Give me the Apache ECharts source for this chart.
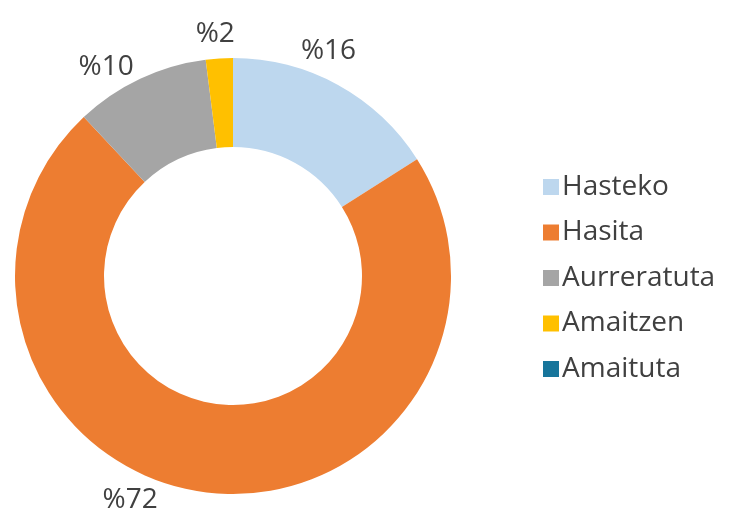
<!DOCTYPE html>
<html><head><meta charset="utf-8">
<script src="https://cdn.jsdelivr.net/npm/echarts@6/dist/echarts.min.js"></script>
<style>html,body{margin:0;padding:0;background:#fff}#c{width:736px;height:513px}</style>
</head><body><div id="c"></div>
<script>
const categories = ['Hasteko', 'Hasita', 'Aurreratuta', 'Amaitzen', 'Amaituta'];
const values = [16, 72, 10, 2, 0];
const colors = ['#BDD7EE', '#ED7D31', '#A5A5A5', '#FFC000', '#17759B'];

// small label nudges (style only) to mimic the original placement
const labelNudge = [[-41, -27], [-47, 0], [-3, -4], [16, -16], [0, 0]];

const chart = echarts.init(document.getElementById('c'));
const FONT = '"Open Sans", "Noto Sans", sans-serif';
chart.setOption({
  animation: false,
  color: colors,
  legend: {
    orient: 'vertical',
    left: 538,
    top: 168,
    itemWidth: 16,
    itemHeight: 16,
    itemGap: 17.5,
    icon: 'rect',
    textStyle: { fontFamily: FONT, fontSize: 28, color: '#404040', lineHeight: 28, padding: [0, 0, 0, -2] },
    data: categories
  },
  series: [{
    type: 'pie',
    center: [233, 276],
    radius: [129, 218],
    startAngle: 90,
    clockwise: true,
    avoidLabelOverlap: false,
    label: {
      show: true,
      position: 'outside',
      formatter: p => '%' + p.value,
      fontFamily: FONT,
      fontSize: 28,
      color: '#404040',
      distanceToLabelLine: 0
    },
    labelLine: { show: false, length: 8, length2: 0 },
    labelLayout: p => ({ dx: labelNudge[p.dataIndex][0], dy: labelNudge[p.dataIndex][1] }),
    emphasis: { disabled: true },
    data: categories.map((c, i) => ({
      name: c,
      value: values[i],
      label: values[i] === 0 ? { show: false } : undefined
    }))
  }]
});
</script></body></html>
